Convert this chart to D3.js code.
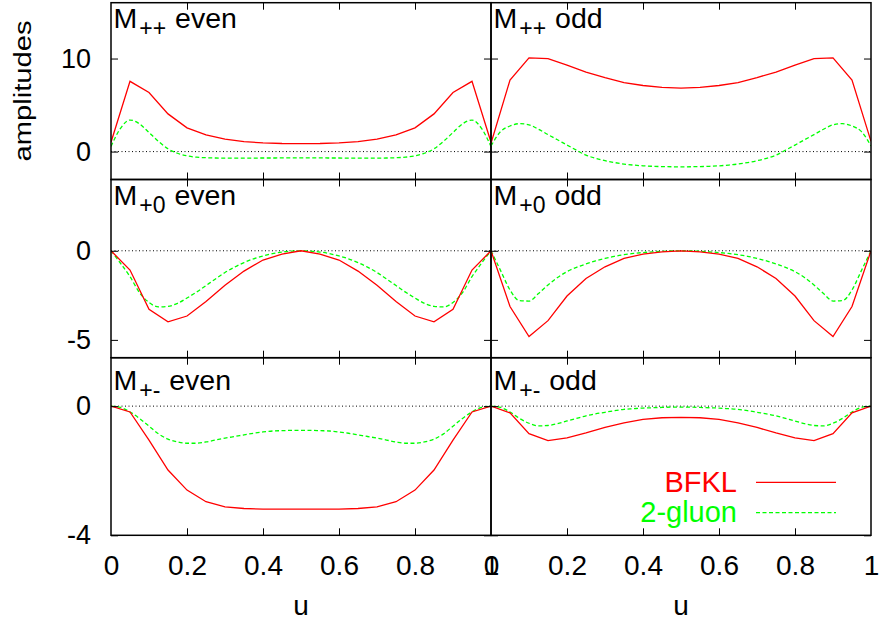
<!DOCTYPE html>
<html><head><meta charset="utf-8">
<script src="https://cdn.jsdelivr.net/npm/d3@7"></script>
<style>
body{margin:0;background:#fff}
svg{display:block}
text{font-family:"Liberation Sans",Arial,Helvetica,sans-serif}
</style>
</head><body>
<svg id="c" width="879" height="626"></svg>
<script>
// ---------- data ----------
const uRed = [0,0.05,0.1,0.15,0.2,0.25,0.3,0.35,0.4,0.45,0.5,0.55,0.6,0.65,0.7,0.75,0.8,0.85,0.9,0.95,1];
const uGluon = [0,0.025,0.05,0.075,0.1,0.125,0.15,0.175,0.2,0.225,0.25,0.275,0.3,0.325,0.35,0.375,0.4,0.425,0.45,0.475,0.5,
                0.525,0.55,0.575,0.6,0.625,0.65,0.675,0.7,0.725,0.75,0.775,0.8,0.825,0.85,0.875,0.9,0.925,0.95,0.975,1];

const ppEvenBFKL  = [1.0,7.55,6.35,4.05,2.55,1.79,1.33,1.07,0.93,0.87,0.86,0.87,0.93,1.07,1.33,1.79,2.55,4.05,6.35,7.55,1.0];
const ppEvenGluon = [0.54,2.5,3.39,2.98,2.05,1.1,0.3,-0.18,-0.46,-0.6,-0.66,-0.69,-0.7,-0.7,-0.7,-0.7,-0.69,-0.69,-0.68,-0.68,-0.68,
                     -0.68,-0.68,-0.69,-0.69,-0.7,-0.7,-0.7,-0.7,-0.69,-0.66,-0.6,-0.46,-0.18,0.3,1.1,2.05,2.98,3.39,2.5,0.54];
const ppOddBFKL   = [0.9,7.68,10.08,10.0,9.28,8.55,7.96,7.42,7.1,6.89,6.82,6.89,7.1,7.42,7.96,8.55,9.28,10.0,10.08,7.68,1.1];
const ppOddGluon  = [0.6,2.14,2.75,3.0,2.88,2.4,1.82,1.27,0.7,0.15,-0.38,-0.72,-0.98,-1.18,-1.34,-1.45,-1.53,-1.58,-1.61,-1.63,-1.64,
                     -1.63,-1.61,-1.58,-1.53,-1.45,-1.34,-1.18,-0.98,-0.72,-0.38,0.15,0.7,1.27,1.82,2.4,2.88,3.0,2.75,2.14,0.6];
const p0EvenBFKL  = [0,-1.08,-3.28,-3.99,-3.66,-2.85,-1.94,-1.14,-0.52,-0.19,0,-0.19,-0.52,-1.14,-1.94,-2.85,-3.66,-3.99,-3.28,-1.08,0];
const p0EvenGluon = [0,-0.7,-1.45,-2.35,-2.9,-3.15,-3.12,-2.95,-2.65,-2.32,-1.95,-1.58,-1.22,-0.92,-0.66,-0.45,-0.29,-0.16,-0.07,-0.02,0,
                     -0.02,-0.07,-0.16,-0.29,-0.45,-0.66,-0.92,-1.22,-1.58,-1.95,-2.32,-2.65,-2.95,-3.12,-3.15,-2.9,-2.35,-1.45,-0.7,0];
const p0OddBFKL   = [0,-3.13,-4.81,-3.92,-2.54,-1.55,-0.9,-0.43,-0.19,-0.06,0,-0.06,-0.19,-0.43,-0.9,-1.55,-2.54,-3.92,-4.81,-3.13,0];
const p0OddGluon  = [0,-1.1,-2.2,-2.8,-2.82,-2.4,-1.92,-1.5,-1.17,-0.93,-0.74,-0.57,-0.43,-0.31,-0.22,-0.15,-0.1,-0.06,-0.03,-0.01,0,
                     -0.01,-0.03,-0.06,-0.1,-0.15,-0.22,-0.31,-0.43,-0.57,-0.74,-0.93,-1.17,-1.5,-1.92,-2.4,-2.82,-2.8,-2.2,-1.1,0];
const pmEvenBFKL  = [0,-0.18,-1.05,-1.98,-2.6,-2.96,-3.12,-3.17,-3.19,-3.19,-3.19,-3.19,-3.19,-3.17,-3.12,-2.96,-2.6,-1.98,-1.05,-0.18,0];
const pmEvenGluon = [0,-0.04,-0.18,-0.38,-0.62,-0.86,-1.02,-1.11,-1.15,-1.15,-1.11,-1.05,-0.99,-0.94,-0.89,-0.84,-0.8,-0.77,-0.76,-0.75,-0.75,
                     -0.75,-0.76,-0.77,-0.8,-0.84,-0.89,-0.94,-0.99,-1.05,-1.11,-1.15,-1.15,-1.11,-1.02,-0.86,-0.62,-0.38,-0.18,-0.04,0];
const pmOddBFKL   = [0,-0.21,-0.85,-1.07,-0.98,-0.83,-0.66,-0.52,-0.41,-0.36,-0.35,-0.36,-0.41,-0.52,-0.66,-0.83,-0.98,-1.07,-0.85,-0.21,0];
const pmOddGluon  = [0,-0.04,-0.18,-0.38,-0.53,-0.61,-0.6,-0.54,-0.46,-0.38,-0.3,-0.24,-0.19,-0.14,-0.1,-0.08,-0.06,-0.05,-0.04,-0.03,-0.03,
                     -0.03,-0.04,-0.05,-0.06,-0.08,-0.1,-0.14,-0.19,-0.24,-0.3,-0.38,-0.46,-0.54,-0.6,-0.61,-0.53,-0.38,-0.18,-0.04,0];

const rowDomains = [[-3,16],[-6,4],[-4,1.5]];
const rowTicks   = [[0,10],[-5,0],[-4,0]];
const rowSubs    = ["++","+0","+-"];
const colNames   = ["even","odd"];
const xTickInner = [0.2,0.4,0.6,0.8];
const xTickLabels = [0,0.2,0.4,0.6,0.8,1];
const seriesNames = ["BFKL","2-gluon"];

const panelData = [
  [ppEvenBFKL, ppEvenGluon], [ppOddBFKL, ppOddGluon],
  [p0EvenBFKL, p0EvenGluon], [p0OddBFKL, p0OddGluon],
  [pmEvenBFKL, pmEvenGluon], [pmOddBFKL, pmOddGluon]
];

// ---------- layout ----------
const colX = [[111,491],[491,871]];
const rowY = [[2.7,179.5],[179.5,357.7],[357.7,535.3]];
const titleBase = [28, 205, 389.5];
const RED = "#ff0000", GREEN = "#00ff00";
const plain = d => String(d);

const svg = d3.select("#c");
const defs = svg.append("defs");

function styleAxis(g){
  g.select(".domain").remove();
  g.selectAll(".tick line").attr("stroke","#000").attr("stroke-width",1);
}

for (let r=0;r<3;r++){
  for (let c=0;c<2;c++){
    const [x0,x1] = colX[c], [y0,y1] = rowY[r];
    const x = d3.scaleLinear().domain([0,1]).range([x0,x1]);
    const y = d3.scaleLinear().domain(rowDomains[r]).range([y1,y0]);
    const id = `clip${r}${c}`;
    defs.append("clipPath").attr("id",id).append("rect")
      .attr("x",x0).attr("y",y0).attr("width",x1-x0).attr("height",y1-y0);
    const g = svg.append("g");
    const plot = g.append("g").attr("clip-path",`url(#${id})`);

    // zero line
    plot.append("line").attr("x1",x(0)).attr("x2",x(1)).attr("y1",y(0)).attr("y2",y(0))
      .attr("stroke","#000").attr("stroke-width",1).attr("stroke-dasharray","1,2.5");

    const [red, green] = panelData[r*2+c];
    const gLine = d3.line().x((d,i)=>x(uGluon[i])).y(d=>y(d)).curve(d3.curveMonotoneX);
    const rLine = d3.line().x((d,i)=>x(uRed[i])).y(d=>y(d));
    plot.append("path").attr("d",gLine(green)).attr("fill","none")
      .attr("stroke",GREEN).attr("stroke-width",1.3).attr("stroke-dasharray","4,2.5");
    plot.append("path").attr("d",rLine(red)).attr("fill","none")
      .attr("stroke",RED).attr("stroke-width",1.3);

    // ticks (inward, mirrored)
    g.append("g").attr("transform",`translate(0,${y1})`)
      .call(d3.axisBottom(x).tickValues(xTickInner).tickSizeInner(-7).tickSizeOuter(0).tickFormat(""))
      .call(styleAxis);
    g.append("g").attr("transform",`translate(0,${y0})`)
      .call(d3.axisTop(x).tickValues(xTickInner).tickSizeInner(-7).tickSizeOuter(0).tickFormat(""))
      .call(styleAxis);
    g.append("g").attr("transform",`translate(${x0},0)`)
      .call(d3.axisLeft(y).tickValues(rowTicks[r]).tickSizeInner(-7).tickSizeOuter(0)
        .tickPadding(20).tickFormat(c===0 ? plain : ""))
      .call(styleAxis)
      .call(a=>a.selectAll("text").attr("font-size",27).attr("fill","#000")
        .attr("font-family",'"Liberation Sans",Arial,sans-serif'));
    g.append("g").attr("transform",`translate(${x1},0)`)
      .call(d3.axisRight(y).tickValues(rowTicks[r]).tickSizeInner(-7).tickSizeOuter(0).tickFormat(""))
      .call(styleAxis);

    if (r===2){
      g.append("g").attr("transform",`translate(0,${y1})`)
        .call(d3.axisBottom(x).tickValues(xTickLabels).tickSize(0).tickPadding(20).tickFormat(plain))
        .call(styleAxis)
        .call(a=>a.selectAll("text").attr("font-size",28).attr("fill","#000")
          .attr("font-family",'"Liberation Sans",Arial,sans-serif'));
    }

    // frame
    g.append("rect").attr("x",x0).attr("y",y0).attr("width",x1-x0).attr("height",y1-y0)
      .attr("fill","none").attr("stroke","#000").attr("stroke-width",1.5);

    // panel title
    const t = g.append("text").attr("x",x0+2.5).attr("y",titleBase[r]).attr("font-size",28.5).attr("fill","#000");
    t.append("tspan").text("M");
    t.append("tspan").attr("dx",2).attr("dy",8).attr("font-size",23).text(rowSubs[r]);
    t.append("tspan").attr("dx",1).attr("dy",-8).text("\u00a0" + colNames[c]);
  }
}

// x axis titles
[301,681].forEach(cx=>{
  svg.append("text").attr("x",cx).attr("y",615).attr("text-anchor","middle")
    .attr("font-size",28).attr("fill","#000").text("u");
});

// y axis title
svg.append("text").attr("transform","translate(31,91) rotate(-90)")
  .attr("text-anchor","middle").attr("font-size",23)
  .attr("textLength",141).attr("lengthAdjust","spacingAndGlyphs")
  .attr("fill","#000").text("amplitudes");

// legend
const legY = [482.3, 512.7];
const legColors = [RED, GREEN];
const legDash = [null, "4,2.5"];
seriesNames.forEach((name,i)=>{
  svg.append("text").attr("x",737).attr("y",legY[i]+9.4).attr("text-anchor","end")
    .attr("font-size",29).attr("fill",legColors[i]).text(name);
  svg.append("line").attr("x1",756).attr("x2",836).attr("y1",legY[i]).attr("y2",legY[i])
    .attr("stroke",legColors[i]).attr("stroke-width",1.3).attr("stroke-dasharray",legDash[i]);
});
</script>
</body></html>
